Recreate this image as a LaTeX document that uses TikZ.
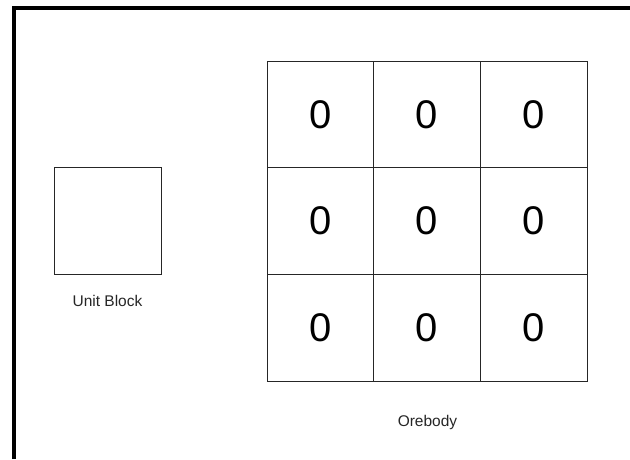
\documentclass[tikz,border=0pt]{standalone}
\usepackage{fontspec}
\setmainfont{Liberation Sans}
\usetikzlibrary{positioning}

\begin{document}
\begin{tikzpicture}[
    x=1pt, y=-1pt,
    node distance=0pt,
    cell/.style={rectangle, draw=black!85, line width=1pt, minimum size=106.7pt,
                 inner sep=0pt, outer sep=0pt, font=\fontsize{40}{40}\selectfont},
    unitbox/.style={rectangle, draw=black!85, line width=1pt, minimum size=107pt,
                    inner sep=0pt, outer sep=0pt},
    lbl/.style={font=\fontsize{15.5}{18}\selectfont, text=black!85}
]
\useasboundingbox (0,0) rectangle (630,459);
% frame edge
\draw[line width=4pt] (14,459) -- (14,8) -- (630,8);

% unit block
\node[unitbox] (unit) at (107.5,221) {};
\node[lbl] (unitlbl) at (107.5,301) {Unit Block};

% orebody grid
\node[cell] (c11) at (320.35,114.35) {0};
\node[cell, right=of c11] (c12) {0};
\node[cell, right=of c12] (c13) {0};
\node[cell, below=of c11] (c21) {0};
\node[cell, right=of c21] (c22) {0};
\node[cell, right=of c22] (c23) {0};
\node[cell, below=of c21] (c31) {0};
\node[cell, right=of c31] (c32) {0};
\node[cell, right=of c32] (c33) {0};
\node[lbl] (orelbl) at (427.5,422) {Orebody};
\end{tikzpicture}
\end{document}
